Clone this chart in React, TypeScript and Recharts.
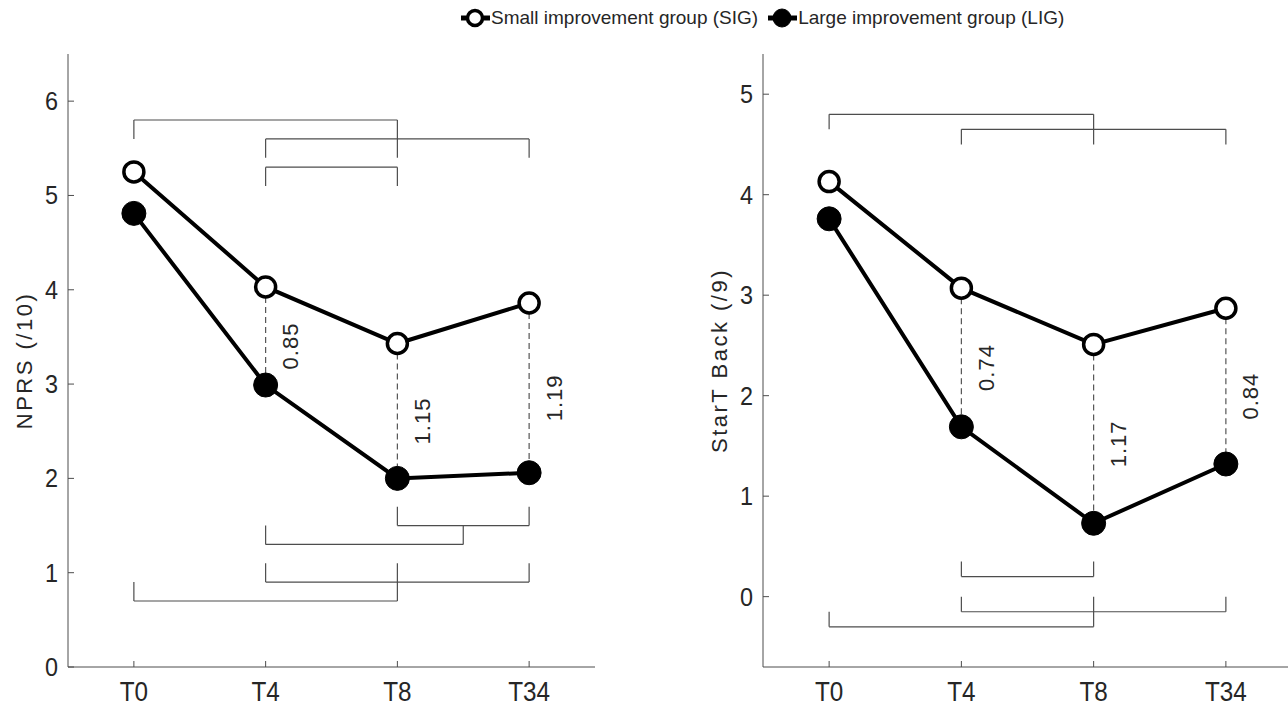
import { LineChart, Line, XAxis, YAxis, ReferenceLine } from 'recharts'

const timepoints = ['T0', 'T4', 'T8', 'T34']

const nprsSIG = [5.25, 4.03, 3.43, 3.86]
const nprsLIG = [4.81, 2.99, 2.0, 2.06]
const nprsGaps = ['0.85', '1.15', '1.19'] // T4, T8, T34

const startSIG = [4.13, 3.07, 2.51, 2.87]
const startLIG = [3.76, 1.69, 0.73, 1.32]
const startGaps = ['0.74', '1.17', '0.84']

// significance brackets: [from, to, level, leg end at from, leg end at to]
const nprsBrackets = [
  [0, 2, 5.8, 5.6, 5.4],
  [1, 3, 5.6, 5.4, 5.4],
  [1, 2, 5.3, 5.1, 5.1],
  [2, 3, 1.5, 1.7, 1.7],
  [1, 2.5, 1.3, 1.5, 1.5],
  [1, 3, 0.9, 1.1, 1.1],
  [0, 2, 0.7, 0.9, 1.1],
]
const startBrackets = [
  [0, 2, 4.8, 4.65, 4.5],
  [1, 3, 4.65, 4.5, 4.5],
  [1, 2, 0.2, 0.35, 0.35],
  [1, 3, -0.15, 0, 0],
  [0, 2, -0.3, -0.15, 0],
]

const FONT = '"Liberation Sans", Arial, sans-serif'
const BOX = '#4d4d4d'
const TEXT = '#262626'

function XTick(props: any) {
  const { x, y, payload } = props
  return (
    <text
      transform={`translate(${x},${y}) scale(0.9,1)`}
      textAnchor="middle"
      dy="0.72em"
      fontSize={27}
      fontFamily={FONT}
      fill={TEXT}
    >
      {timepoints[payload.value]}
    </text>
  )
}

function YTick(props: any) {
  const { x, y, payload } = props
  return (
    <text
      transform={`translate(${x},${y}) scale(0.9,1)`}
      textAnchor="end"
      dominantBaseline="central"
      fontSize={26}
      fontFamily={FONT}
      fill={TEXT}
    >
      {payload.value}
    </text>
  )
}

function GapLabel(props: any) {
  const { viewBox, text } = props
  if (!viewBox) return null
  const cx = viewBox.x + 25
  const cy = viewBox.y + viewBox.height / 2 + 10
  return (
    <text
      x={cx}
      y={cy}
      transform={`rotate(-90 ${cx} ${cy})`}
      textAnchor="middle"
      dominantBaseline="central"
      fontSize={22}
      letterSpacing={1}
      fontFamily={FONT}
      fill={TEXT}
    >
      {text}
    </text>
  )
}

function AxisTitle(props: any) {
  const { viewBox, text } = props
  if (!viewBox) return null
  const cx = viewBox.x + viewBox.width - 44
  const cy = viewBox.y + viewBox.height / 2
  return (
    <text
      x={cx}
      y={cy}
      transform={`rotate(-90 ${cx} ${cy})`}
      textAnchor="middle"
      dominantBaseline="central"
      fontSize={22}
      letterSpacing={2.5}
      fontFamily={FONT}
      fill={TEXT}
    >
      {text}
    </text>
  )
}

interface PanelProps {
  sig: number[]
  lig: number[]
  gaps: string[]
  brackets: number[][]
  yDomain: [number, number]
  yTicks: number[]
  yLabel: string
  marginLeft: number
  marginRight: number
}

function Panel({ sig, lig, gaps, brackets, yDomain, yTicks, yLabel, marginLeft, marginRight }: PanelProps) {
  const data = timepoints.map((t, i) => ({ x: i, name: t, sig: sig[i], lig: lig[i] }))
  return (
    <LineChart
      width={620}
      height={706}
      data={data}
      margin={{ top: 54, right: marginRight, bottom: 0, left: marginLeft }}
    >
      <XAxis
        type="number"
        dataKey="x"
        domain={[-0.5, 3.5]}
        ticks={[0, 1, 2, 3]}
        interval={0}
        height={39}
        tickSize={-6}
        tickMargin={21}
        tick={<XTick />}
        stroke={BOX}
      />
      <XAxis
        xAxisId="top"
        orientation="top"
        type="number"
        dataKey="x"
        domain={[-0.5, 3.5]}
        ticks={[0, 1, 2, 3]}
        interval={0}
        height={0}
        tickSize={-6}
        tick={false}
        stroke={BOX}
      />
      <YAxis
        domain={yDomain}
        ticks={yTicks}
        interval={0}
        width={48}
        tickSize={-6}
        tickMargin={16}
        tick={<YTick />}
        stroke={BOX}
        label={<AxisTitle text={yLabel} />}
      />
      <YAxis
        yAxisId="right"
        orientation="right"
        domain={yDomain}
        ticks={yTicks}
        interval={0}
        width={0}
        tickSize={-6}
        tick={false}
        stroke={BOX}
      />
      {brackets.map(([a, b, y, ya, yb], i) => [
        <ReferenceLine key={`h${i}`} segment={[{ x: a, y }, { x: b, y }]} stroke={BOX} strokeWidth={1.2} />,
        <ReferenceLine key={`a${i}`} segment={[{ x: a, y: ya }, { x: a, y }]} stroke={BOX} strokeWidth={1.2} />,
        <ReferenceLine key={`b${i}`} segment={[{ x: b, y: yb }, { x: b, y }]} stroke={BOX} strokeWidth={1.2} />,
      ])}
      <Line
        type="linear"
        dataKey="lig"
        stroke="#000"
        strokeWidth={4}
        dot={{ r: 12, fill: '#000', stroke: '#000', strokeWidth: 1 }}
        activeDot={false}
        isAnimationActive={false}
      />
      <Line
        type="linear"
        dataKey="sig"
        stroke="#000"
        strokeWidth={4}
        dot={{ r: 10, fill: '#fff', stroke: '#000', strokeWidth: 3.5 }}
        activeDot={false}
        isAnimationActive={false}
      />
      {gaps.map((g, k) => {
        const i = k + 1
        return (
          <ReferenceLine
            key={`g${i}`}
            segment={[{ x: i, y: sig[i] }, { x: i, y: lig[i] }]}
            stroke="#555"
            strokeWidth={1.2}
            strokeDasharray="6 4"
            label={<GapLabel text={g} />}
          />
        )
      })}
    </LineChart>
  )
}

function LegendIcon({ filled }: { filled: boolean }) {
  return (
    <svg width={32} height={24} style={{ display: 'block' }}>
      <line x1={2} y1={12} x2={31} y2={12} stroke="#000" strokeWidth={5} />
      <circle
        cx={16}
        cy={12}
        r={filled ? 9 : 7.5}
        fill={filled ? '#000' : '#fff'}
        stroke="#000"
        strokeWidth={filled ? 1 : 3.5}
      />
    </svg>
  )
}

export default function App() {
  return (
    <div
      style={{
        position: 'fixed',
        left: 0,
        top: 0,
        width: 1288,
        height: 706,
        overflow: 'hidden',
        background: '#fff',
      }}
    >
      <div
        style={{
          position: 'absolute',
          left: 459,
          top: 6,
          display: 'flex',
          alignItems: 'center',
          fontFamily: FONT,
          fontSize: 19,
          color: TEXT,
          whiteSpace: 'nowrap',
        }}
      >
        <LegendIcon filled={false} />
        <span>Small improvement group (SIG)</span>
        <span style={{ width: 8 }} />
        <LegendIcon filled />
        <span>Large improvement group (LIG)</span>
      </div>
      <div style={{ position: 'absolute', left: 0, top: 0 }}>
        <Panel
          sig={nprsSIG}
          lig={nprsLIG}
          gaps={nprsGaps}
          brackets={nprsBrackets}
          yDomain={[0, 6.5]}
          yTicks={[0, 1, 2, 3, 4, 5, 6]}
          yLabel="NPRS (/10)"
          marginLeft={20}
          marginRight={25}
        />
      </div>
      <div style={{ position: 'absolute', left: 700, top: 0 }}>
        <Panel
          sig={startSIG}
          lig={startLIG}
          gaps={startGaps}
          brackets={startBrackets}
          yDomain={[-0.7, 5.4]}
          yTicks={[0, 1, 2, 3, 4, 5]}
          yLabel="StarT Back (/9)"
          marginLeft={15}
          marginRight={28}
        />
      </div>
    </div>
  )
}
